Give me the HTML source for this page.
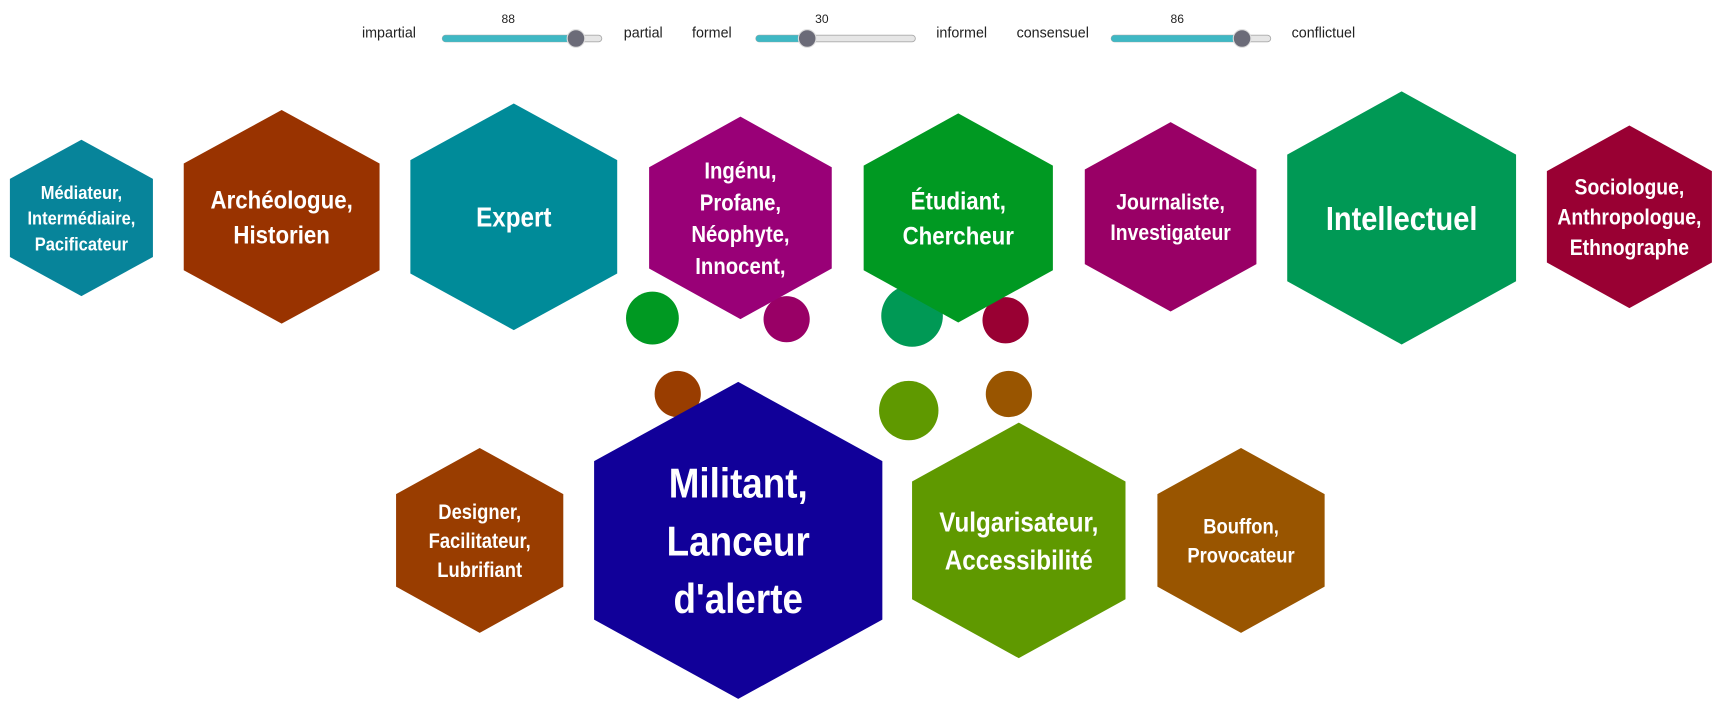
<!DOCTYPE html>
<html><head><meta charset="utf-8"><style>
html,body{margin:0;padding:0;background:#fff;}
svg{display:block;font-family:"Liberation Sans Narrow","Liberation Sans","DejaVu Sans Condensed",sans-serif;}
</style></head><body>
<svg id="chart" width="1724" height="711" viewBox="0 0 1567 646" preserveAspectRatio="none" xmlns="http://www.w3.org/2000/svg">
<g id="sliders" font-size="13" fill="#222"></g>
<g id="circles"></g>
<g id="hexes"></g>
</svg>
<script>
const labels=[["Médiateur,","Intermédiaire,","Pacificateur"],["Archéologue,","Historien"],["Expert"],["Ingénu,","Profane,","Néophyte,","Innocent,"],["Étudiant,","Chercheur"],["Journaliste,","Investigateur"],["Intellectuel"],["Sociologue,","Anthropologue,","Ethnographe"],["Designer,","Facilitateur,","Lubrifiant"],["Militant,","Lanceur","d'alerte"],["Vulgarisateur,","Accessibilité"],["Bouffon,","Provocateur"]];
const sizes=[65,89,94,83,86,78,104,75,76,131,97,76];
const hcx=[74,256,467,673,871,1064,1274,1481,436,671,926,1128];
const hcy=[198,197,197,198,198,197,198,197,491,491,491,491];
const hh=[71,97,103,92,95,86,115,83,84,144,107,84];
const colors=["#07849a","#993300","#008b99","#990077","#009922","#990066","#009955","#990033","#993d00","#110099","#5f9900","#995500"];
const fonts=[17,23,25,21,23,20,30,20,19,38,25,19];
const circX=[593,715,829,914,616,826,917];
const circY=[289,290,287,291,358,373,358];
const circR=[24,21,28,21,21,27,21];
const circC=["#009922","#990066","#009955","#990033","#993d00","#5f9900","#995500"];
const sliderLeft=["impartial","formel","consensuel"];
const sliderRight=["partial","informel","conflictuel"];
const sliderVals=[88,30,86];
const NS="http://www.w3.org/2000/svg";
function mk(t,a){const e=document.createElementNS(NS,t);for(const k in a)e.setAttribute(k,a[k]);return e;}
const sg=document.getElementById('sliders');
const sx=[329,629,924],tx=[402,687,1010],rx=[567,851,1174];
sliderVals.forEach((v,i)=>{
 let t=mk('text',{x:sx[i],y:34});t.textContent=sliderLeft[i];
 
 sg.appendChild(t);
 let r=mk('text',{x:rx[i],y:34});r.textContent=sliderRight[i];
 
 sg.appendChild(r);
 const L=145,thumb=tx[i]+8+(L-16)*v/100;
 let tr=mk('rect',{x:tx[i],y:32,width:L,height:6,rx:3,fill:'#e6e6e6',stroke:'#aaa','stroke-width':0.8});
 
 sg.appendChild(tr);
 let f=mk('rect',{x:tx[i],y:32,width:thumb-tx[i],height:6,rx:3,fill:'#3fb8c4'});
 
 sg.appendChild(f);
 let th=mk('circle',{cx:thumb,cy:35,r:8,fill:'#6b6b78',stroke:'#ddd','stroke-width':1});
 
 sg.appendChild(th);
 let vt=mk('text',{x:tx[i]+60,y:21,'font-size':11,'text-anchor':'middle'});vt.textContent=v;
 
 sg.appendChild(vt);
});
const cg=document.getElementById('circles');
circX.forEach((x,i)=>{
 let c=mk('circle',{cx:x,cy:circY[i],r:circR[i],fill:circC[i]});
 
 cg.appendChild(c);
});
const hg=document.getElementById('hexes');
labels.forEach((lab,i)=>{
 const cx=hcx[i],cy=hcy[i],w=sizes[i],h=hh[i];
 const g=mk('g',{});
 
 
 const pts=[[cx,cy-h],[cx+w,cy-h/2],[cx+w,cy+h/2],[cx,cy+h],[cx-w,cy+h/2],[cx-w,cy-h/2]].map(p=>p.join(',')).join(' ');
 const p=mk('polygon',{points:pts,fill:colors[i]});
 
 g.appendChild(p);
 const fs=fonts[i],lh=fs*1.38,y0=cy-(lab.length-1)*lh/2+fs*0.36;
 const tg=mk('g',{transform:`translate(${cx},0) scale(0.88,1)`});
 lab.forEach((s,j)=>{
  const t=mk('text',{x:0,y:y0+j*lh,'text-anchor':'middle','font-size':fs,'font-weight':'bold',fill:'#fff'});
  t.textContent=s;
  
  tg.appendChild(t);
 });
 g.appendChild(tg);
 hg.appendChild(g);
});
</script>
</body></html>
